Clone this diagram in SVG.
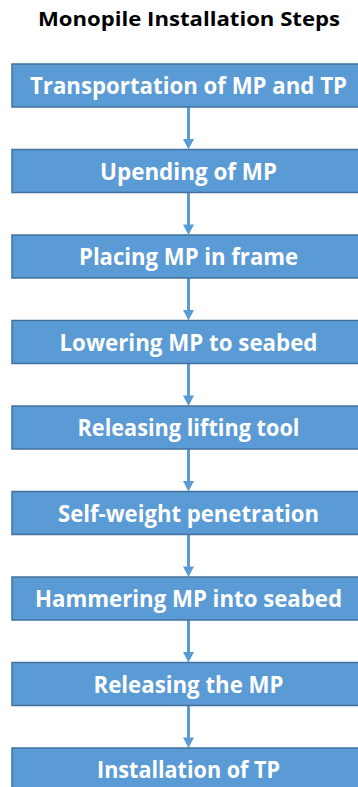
<svg xmlns="http://www.w3.org/2000/svg" width="358" height="787" viewBox="0 0 358 787">
  <style>
    .box { fill: #5b9bd5; stroke: #41719c; stroke-width: 1.5; }
    .lbl { font-family: "Open Sans", "Liberation Sans", sans-serif; font-weight: bold; font-size: 22.5px; fill: #ffffff; text-anchor: middle; }
    .title { font-family: "Open Sans", "Liberation Sans", sans-serif; font-weight: bold; font-size: 19px; fill: #000000; text-anchor: middle; }
    .conn { stroke: #5b9bd5; stroke-width: 3; fill: none; }
    .head { fill: #5b9bd5; }
  </style>
  <rect width="358" height="787" fill="#ffffff"/>
  <text class="title" x="189" y="26" textLength="302" lengthAdjust="spacingAndGlyphs">Monopile Installation Steps</text>

  <!-- connectors between consecutive steps -->
  <g id="connectors">
    <g transform="translate(0,0)"><line class="conn" x1="188.5" y1="107" x2="188.5" y2="140"/><polygon class="head" points="183,139 194,139 188.5,149.5"/></g>
    <g transform="translate(0,85.5)"><line class="conn" x1="188.5" y1="107" x2="188.5" y2="140"/><polygon class="head" points="183,139 194,139 188.5,149.5"/></g>
    <g transform="translate(0,171)"><line class="conn" x1="188.5" y1="107" x2="188.5" y2="140"/><polygon class="head" points="183,139 194,139 188.5,149.5"/></g>
    <g transform="translate(0,256.5)"><line class="conn" x1="188.5" y1="107" x2="188.5" y2="140"/><polygon class="head" points="183,139 194,139 188.5,149.5"/></g>
    <g transform="translate(0,342)"><line class="conn" x1="188.5" y1="107" x2="188.5" y2="140"/><polygon class="head" points="183,139 194,139 188.5,149.5"/></g>
    <g transform="translate(0,427.5)"><line class="conn" x1="188.5" y1="107" x2="188.5" y2="140"/><polygon class="head" points="183,139 194,139 188.5,149.5"/></g>
    <g transform="translate(0,513)"><line class="conn" x1="188.5" y1="107" x2="188.5" y2="140"/><polygon class="head" points="183,139 194,139 188.5,149.5"/></g>
    <g transform="translate(0,598.5)"><line class="conn" x1="188.5" y1="107" x2="188.5" y2="140"/><polygon class="head" points="183,139 194,139 188.5,149.5"/></g>
  </g>

  <g id="step1"><rect class="box" x="12" y="64" width="354" height="43"/><text class="lbl" x="188.5" y="94" textLength="317" lengthAdjust="spacingAndGlyphs">Transportation of MP and TP</text></g>
  <g id="step2"><rect class="box" x="12" y="149.5" width="354" height="43"/><text class="lbl" x="188.5" y="179.5" textLength="177" lengthAdjust="spacingAndGlyphs">Upending of MP</text></g>
  <g id="step3"><rect class="box" x="12" y="235" width="354" height="43"/><text class="lbl" x="188.5" y="265" textLength="219" lengthAdjust="spacingAndGlyphs">Placing MP in frame</text></g>
  <g id="step4"><rect class="box" x="12" y="320.5" width="354" height="43"/><text class="lbl" x="188.5" y="350.5" textLength="258" lengthAdjust="spacingAndGlyphs">Lowering MP to seabed</text></g>
  <g id="step5"><rect class="box" x="12" y="406" width="354" height="43"/><text class="lbl" x="188.5" y="436" textLength="222" lengthAdjust="spacingAndGlyphs">Releasing lifting tool</text></g>
  <g id="step6"><rect class="box" x="12" y="491.5" width="354" height="43"/><text class="lbl" x="188.5" y="521.5" textLength="261" lengthAdjust="spacingAndGlyphs">Self-weight penetration</text></g>
  <g id="step7"><rect class="box" x="12" y="577" width="354" height="43"/><text class="lbl" x="188.5" y="607" textLength="307" lengthAdjust="spacingAndGlyphs">Hammering MP into seabed</text></g>
  <g id="step8"><rect class="box" x="12" y="662.5" width="354" height="43"/><text class="lbl" x="188.5" y="692.5" textLength="190" lengthAdjust="spacingAndGlyphs">Releasing the MP</text></g>
  <g id="step9"><rect class="box" x="12" y="748" width="354" height="43"/><text class="lbl" x="188.5" y="778" textLength="183" lengthAdjust="spacingAndGlyphs">Installation of TP</text></g>
</svg>
